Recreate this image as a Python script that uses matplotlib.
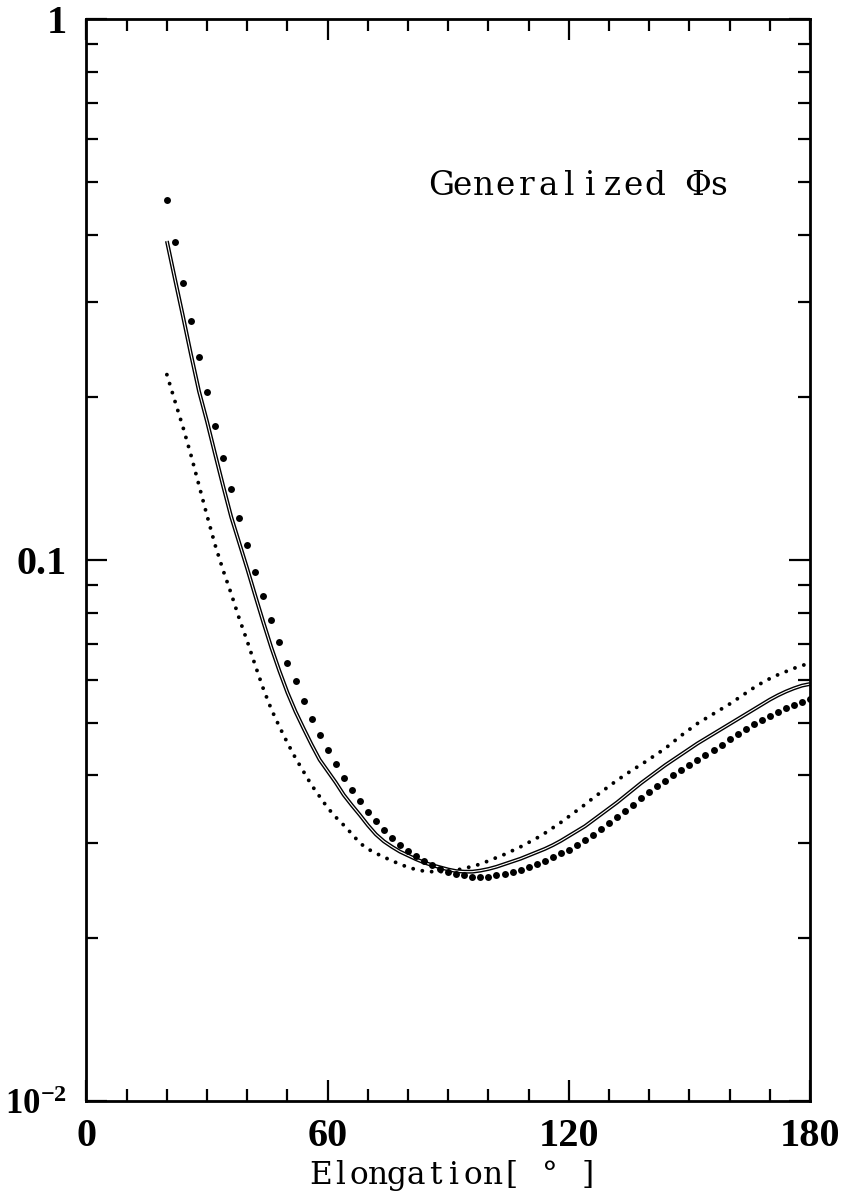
import matplotlib
matplotlib.use('Agg')
import matplotlib.pyplot as plt
from matplotlib.ticker import FixedLocator, MultipleLocator, LogLocator, NullFormatter, FixedFormatter
import numpy as np

plt.rcParams['mathtext.fontset'] = 'custom'
plt.rcParams['mathtext.rm'] = 'Liberation Serif:bold'
plt.rcParams['mathtext.bf'] = 'Liberation Serif:bold'

# elongation grid (deg)
elong = np.arange(20, 181, 2)

# log10 of the phase function, one value per grid angle
log_phi_dots = [
    -0.335, -0.411, -0.487, -0.557, -0.625, -0.690, -0.752, -0.812, -0.868, -0.922,
    -0.972, -1.021, -1.067, -1.110, -1.151, -1.190, -1.224, -1.260, -1.293, -1.323,
    -1.351, -1.377, -1.402, -1.425, -1.446, -1.465, -1.483, -1.499, -1.513, -1.526,
    -1.537, -1.547, -1.556, -1.564, -1.571, -1.576, -1.580, -1.583, -1.585, -1.586,
    -1.585, -1.583, -1.580, -1.576, -1.572, -1.567, -1.562, -1.556, -1.549, -1.542,
    -1.535, -1.527, -1.518, -1.508, -1.497, -1.486, -1.475, -1.464, -1.452, -1.440,
    -1.429, -1.418, -1.408, -1.398, -1.388, -1.379, -1.370, -1.360, -1.351, -1.341,
    -1.331, -1.321, -1.312, -1.303, -1.295, -1.288, -1.281, -1.274, -1.268, -1.262,
    -1.256,
]
log_phi_solid = [
    -0.410, -0.480, -0.549, -0.620, -0.688, -0.744, -0.804, -0.863, -0.920, -0.968,
    -1.016, -1.066, -1.115, -1.162, -1.205, -1.245, -1.280, -1.311, -1.341, -1.369,
    -1.390, -1.411, -1.434, -1.453, -1.471, -1.490, -1.507, -1.520, -1.530, -1.539,
    -1.546, -1.553, -1.559, -1.564, -1.568, -1.572, -1.575, -1.576, -1.576, -1.574,
    -1.571, -1.567, -1.562, -1.557, -1.552, -1.546, -1.540, -1.534, -1.527, -1.519,
    -1.510, -1.501, -1.492, -1.481, -1.470, -1.459, -1.448, -1.436, -1.424, -1.412,
    -1.401, -1.390, -1.379, -1.369, -1.359, -1.349, -1.339, -1.330, -1.321, -1.312,
    -1.303, -1.294, -1.285, -1.276, -1.267, -1.258, -1.250, -1.243, -1.237, -1.232,
    -1.229,
]
log_phi_dotted = [
    -0.657, -0.706, -0.754, -0.806, -0.862, -0.918, -0.972, -1.019, -1.062, -1.108,
    -1.150, -1.195, -1.238, -1.276, -1.308, -1.338, -1.366, -1.391, -1.416, -1.437,
    -1.458, -1.475, -1.490, -1.506, -1.523, -1.534, -1.542, -1.549, -1.556, -1.562,
    -1.568, -1.572, -1.575, -1.576, -1.576, -1.575, -1.573, -1.570, -1.566, -1.562,
    -1.556, -1.550, -1.544, -1.537, -1.530, -1.522, -1.514, -1.505, -1.495, -1.485,
    -1.474, -1.463, -1.452, -1.440, -1.429, -1.418, -1.407, -1.397, -1.387, -1.378,
    -1.368, -1.358, -1.348, -1.336, -1.324, -1.313, -1.302, -1.293, -1.284, -1.275,
    -1.266, -1.256, -1.246, -1.236, -1.227, -1.219, -1.212, -1.206, -1.200, -1.195,
    -1.190,
]

x_major = [0, 60, 120, 180]
x_labels = ['0', '60', '120', '180']
y_major = [0.01, 0.1, 1]
y_labels = [r'$\mathbf{10^{-2}}$', '0.1', '1']

W, H = 845, 1194
fig = plt.figure(figsize=(W / 100, H / 100), dpi=100)
ax = fig.add_axes([86.5 / W, 1 - 1101 / H, (810 - 86.5) / W, (1101 - 19.3) / H])


def spaced_text(s, left_px, baseline_px, advance_px, size):
    # fixed-pitch serif text, one glyph per cell (pixel coords from top-left)
    for i, ch in enumerate(s):
        if ch == ' ':
            continue
        cx = left_px + (i + 0.5) * advance_px
        fig.text(cx / W, 1 - baseline_px / H, ch, family='DejaVu Serif',
                 fontsize=size, ha='center', va='baseline')


# small-dot curve
ax.plot(elong, 10 ** np.array(log_phi_dotted), color='black', lw=2.8,
        linestyle=(0, (0.01, 2.4)), dash_capstyle='round')
# double-stroke solid curve
ax.plot(elong, 10 ** np.array(log_phi_solid), color='black', lw=2.8, solid_capstyle='butt')
ax.plot(elong, 10 ** np.array(log_phi_solid), color='white', lw=0.8, solid_capstyle='butt')
# large filled dots
ax.plot(elong, 10 ** np.array(log_phi_dots), 'o', color='black', ms=5, mew=0)

ax.set_yscale('log')
ax.set_xlim(0, 180)
ax.set_ylim(0.01, 1)

ax.xaxis.set_major_locator(FixedLocator(x_major))
ax.xaxis.set_major_formatter(FixedFormatter(x_labels))
ax.xaxis.set_minor_locator(MultipleLocator(10))
ax.yaxis.set_major_locator(FixedLocator(y_major))
ax.yaxis.set_major_formatter(FixedFormatter(y_labels))
ax.yaxis.set_minor_locator(LogLocator(base=10, subs=np.arange(2, 10)))
ax.yaxis.set_minor_formatter(NullFormatter())

ax.tick_params(which='both', direction='in', top=True, right=True, width=1.6)
ax.tick_params(which='major', length=15)
ax.tick_params(which='minor', length=8.5)
ax.tick_params(axis='x', which='major', pad=12)
ax.tick_params(axis='y', which='major', pad=14)

for lab in ax.get_xticklabels() + ax.get_yticklabels():
    lab.set_fontfamily(['Liberation Serif', 'DejaVu Serif'])
    lab.set_fontweight('bold')
    lab.set_fontsize(29)
ax.get_yticklabels()[0].set_fontsize(25)

for sp in ax.spines.values():
    sp.set_linewidth(2.0)

spaced_text('Generalized Φs', 430, 195, 21.4, 23.5)
spaced_text('Elongation[ ° ]', 311, 1184, 19.1, 22.5)

fig.savefig('out.png', dpi=100)
